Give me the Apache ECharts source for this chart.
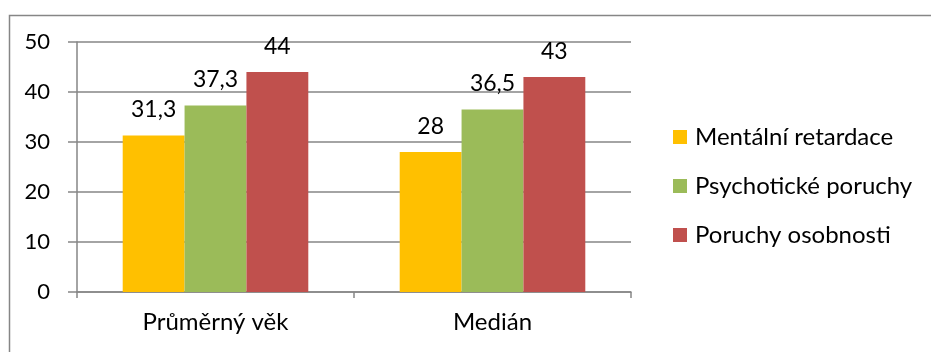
<!DOCTYPE html>
<html>
<head>
<meta charset="utf-8">
<script src="https://cdn.jsdelivr.net/npm/echarts@6/dist/echarts.min.js"></script>
<style>
  html, body { margin: 0; padding: 0; background: #fff; }
  #chart { width: 931px; height: 352px; }
</style>
</head>
<body>
<div id="chart"></div>
<script>
// data
var categories = ['Průměrný věk', 'Medián'];
var seriesNames = ['Mentální retardace', 'Psychotické poruchy', 'Poruchy osobnosti'];
var mentalni = [31.3, 28];
var psychoticke = [37.3, 36.5];
var osobnosti = [44, 43];
var yTicks = [0, 10, 20, 30, 40, 50];

var colors = ['#FFC000', '#9BBB59', '#C0504D'];
var font = 'Lato, Carlito, "Open Sans", sans-serif';
var gray = '#868686';

function bar(name, data, color) {
  return {
    name: name,
    type: 'bar',
    data: data,
    barGap: '0%',
    barCategoryGap: '33%',
    itemStyle: { color: color },
    label: {
      show: true,
      position: 'top',
      distance: 14,
      color: '#000',
      fontFamily: font,
      fontSize: 23,
      formatter: function (p) { return String(p.value).replace('.', ','); }
    }
  };
}

var chart = echarts.init(document.getElementById('chart'));
chart.setOption({
  animation: false,
  textStyle: { fontFamily: font },
  graphic: [{
    type: 'rect',
    left: 7, top: 13,
    shape: { width: 940, height: 360 },
    style: { fill: 'none', stroke: gray, lineWidth: 1.5 },
    silent: true
  }],
  grid: { left: 77, right: 300, top: 42, bottom: 60 },
  legend: {
    orient: 'vertical',
    left: 673, top: 125,
    padding: 0,
    icon: 'rect',
    itemWidth: 14, itemHeight: 14,
    itemGap: 25,
    data: seriesNames,
    textStyle: { fontFamily: font, fontSize: 24, color: '#000', padding: [0, 0, 0, 3] }
  },
  xAxis: {
    type: 'category',
    data: categories,
    axisLine: { lineStyle: { color: gray, width: 1.5 } },
    axisTick: { show: true, length: 6, lineStyle: { color: gray, width: 1.5 } },
    axisLabel: { color: '#000', fontFamily: font, fontSize: 24, margin: 18 }
  },
  yAxis: {
    type: 'value',
    min: yTicks[0], max: yTicks[yTicks.length - 1], interval: 10,
    axisLine: { show: true, lineStyle: { color: gray, width: 1.5 } },
    axisTick: { show: true, length: 9, lineStyle: { color: gray, width: 1.5 } },
    splitLine: { lineStyle: { color: gray, width: 1.5 } },
    axisLabel: { color: '#000', fontFamily: font, fontSize: 22, margin: 27 }
  },
  series: [
    bar(seriesNames[0], mentalni, colors[0]),
    bar(seriesNames[1], psychoticke, colors[1]),
    bar(seriesNames[2], osobnosti, colors[2])
  ]
});
</script>
</body>
</html>
